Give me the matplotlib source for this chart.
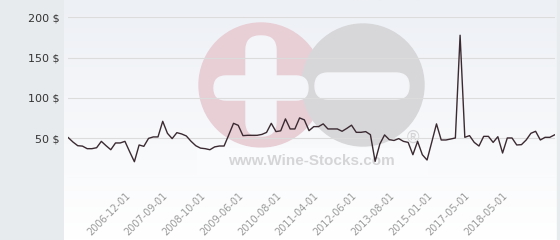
import numpy as np
import matplotlib
matplotlib.use("Agg")
from matplotlib import pyplot as plt
from matplotlib.patches import Circle, FancyBboxPatch, Rectangle

# price per point (categorical x axis, one point per entry)
prices = [50.5, 45, 40.5, 40, 36.8, 36.8, 38, 45.9, 40.5, 35.5,
          43.9, 43.9, 45.9, 33, 20.6, 41.4, 39.7, 49.6, 51.4, 51.4,
          70.8, 55.9, 49.3, 56.7, 55.1, 52.6, 46, 40.5, 37.5, 36.8,
          35.5, 39, 40.1, 40.1, 54, 68.3, 65.8, 53, 53.4, 53.4,
          53.4, 54.5, 57, 68.3, 58, 59, 73.8, 61.3, 61.3, 75,
          72.6, 59.2, 64.2, 64.2, 67.6, 61.3, 61.3, 61.3, 58.4, 62,
          66, 57.1, 57.1, 58, 54.2, 21, 42.6, 53.9, 48, 47,
          49.3, 45.9, 44.6, 29.3, 45.9, 29.3, 22.7, 45, 67.6, 47.6,
          47.6, 48.8, 50.1, 177.7, 50.9, 53, 44.6, 40.1, 52.1, 52.1,
          44.6, 51.7, 31.4, 50.1, 50.1, 41.4, 41.8, 47.6, 55.9, 58.4,
          47.6, 50.9, 50.9, 53.9]

date_labels = ["2006-12-01", "2007-09-01", "2008-10-01", "2009-06-01",
               "2010-08-01", "2011-04-01", "2012-06-01", "2013-08-01",
               "2015-01-01", "2017-05-01", "2018-05-01"]
label_first = 12
label_step = 8

y_ticks = [0, 50, 100, 150, 200]

fig = plt.figure(figsize=(5.6, 2.4), dpi=100)

#background, panel and watermark drawn in pixel coords
bg = fig.add_axes([0, 0, 1, 1])
bg.set_xlim(0, 560)
bg.set_ylim(240, 0)
bg.axis("off")
bg.add_patch(Rectangle((0, 0), 63, 240, color="#e8ebee", zorder=0))
grad = np.linspace(0, 1, 100).reshape(-1, 1)
top_col = np.array([237, 240, 245]) / 255
bot_col = np.array([255, 255, 255]) / 255
img = top_col * (1 - grad[..., None]) + bot_col * grad[..., None]
bg.imshow(img, extent=(63.5, 557, 240, 0), aspect="auto", zorder=1)
bg.add_patch(Rectangle((557, 0), 3, 240, color="#e8ebee", zorder=1))
bg.set_xlim(0, 560)
bg.set_ylim(240, 0)

bg.add_patch(Circle((261, 85), 62, color="#e8cfd6", zorder=2))
bg.add_patch(Circle((363, 85), 61, color="#d7d7da", zorder=3))
hole = "#f4f5f8"
bg.add_patch(FancyBboxPatch((214, 76), 94, 24, boxstyle="round,pad=0,rounding_size=12",
                            color=hole, zorder=4))
bg.add_patch(FancyBboxPatch((246, 36), 30, 100, boxstyle="round,pad=0,rounding_size=14",
                            color=hole, zorder=4))
bg.add_patch(FancyBboxPatch((315, 73), 94, 26, boxstyle="round,pad=0,rounding_size=13",
                            color=hole, zorder=4))
bg.add_patch(Rectangle((197, 148), 230, 26, color="#fafbfc", zorder=4))
bg.text(311, 161, "www.Wine-Stocks.com", fontsize=11, fontweight="bold",
        family="Liberation Sans", color="#d5d5d8", ha="center", va="center", zorder=5)
bg.text(413, 138, "\u00ae", fontsize=12, color="#d5d5d8", ha="center", va="center", zorder=5)

#the chart itself
ax = fig.add_axes([68.3 / 560, 61.7 / 240, 486.2 / 560, 161 / 240])
ax.patch.set_alpha(0)
x = np.arange(len(prices))
ax.plot(x, prices, color="#3b2a31", lw=1.0, zorder=3)
ax.set_xlim(0, len(prices) - 1)
ax.set_ylim(0, 200)

ax.set_yticks(y_ticks)
ax.set_yticklabels([f"{v} $" if v else "" for v in y_ticks])
ax.grid(axis="y", color="#dcdcdc", lw=0.8)
ax.set_axisbelow(True)

tick_pos = [label_first + label_step * k for k in range(len(date_labels))]
ax.set_xticks(tick_pos)
ax.set_xticklabels(date_labels, rotation=45, ha="right", va="top", rotation_mode="anchor")

ax.tick_params(axis="y", length=0, pad=6.5, labelsize=8, labelcolor="#333333")
ax.tick_params(axis="x", length=0, pad=9, labelsize=7, labelcolor="#999999")
for s in ax.spines.values():
    s.set_visible(False)

fig.savefig("out.png", dpi=100)
